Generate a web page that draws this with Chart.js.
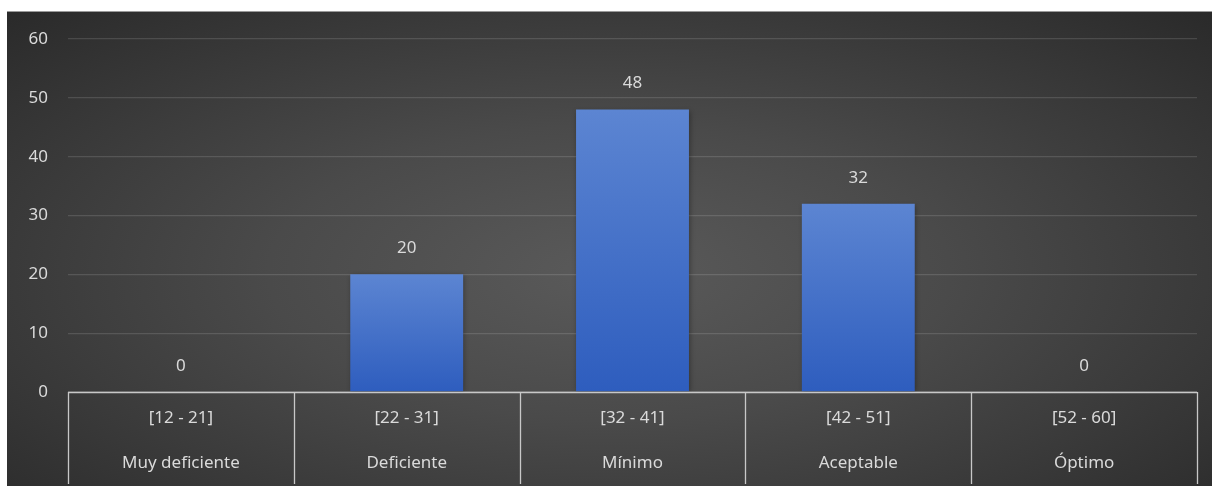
<!DOCTYPE html>
<html>
<head>
<meta charset="utf-8">
<script src="https://cdn.jsdelivr.net/npm/chart.js@4.4.1/dist/chart.umd.min.js"></script>
<style>
  html, body { margin: 0; padding: 0; background: #ffffff; width: 1212px; height: 486px; overflow: hidden; }
  #wrap {
    position: absolute; left: 7px; top: 11px; width: 1205px; height: 475px;
    background: radial-gradient(ellipse farthest-corner at 50% 55%, #5a5a5a 0%, #4a4a4a 40%, #2a2a2a 100%);
    border-top: 1px solid #9a9a9a;
    box-sizing: border-box;
  }
  canvas { display: block; }
</style>
</head>
<body>
<div id="wrap"><canvas id="c" width="1205" height="474"></canvas></div>
<script>
const ranges = ["[12 - 21]", "[22 - 31]", "[32 - 41]", "[42 - 51]", "[52 - 60]"];
const levels = ["Muy deficiente", "Deficiente", "Mínimo", "Aceptable", "Óptimo"];
const counts = [0, 20, 48, 32, 0];
const yTicks = [0, 10, 20, 30, 40, 50, 60];

const textColor = "#dadada";
const fontFamily = "'Noto Sans', 'Open Sans', sans-serif";

const labels = ranges.map((r, i) => [r, levels[i]]);

const valueLabels = {
  id: "valueLabels",
  afterDatasetsDraw(chart) {
    const ctx = chart.ctx;
    const meta = chart.getDatasetMeta(0);
    ctx.save();
    ctx.fillStyle = textColor;
    ctx.font = "17px " + fontFamily;
    ctx.textAlign = "center";
    ctx.textBaseline = "middle";
    meta.data.forEach((bar, i) => {
      ctx.fillText(String(counts[i]), bar.x, bar.y - 26);
    });
    ctx.restore();
  }
};

const tableLines = {
  id: "tableLines",
  afterDraw(chart) {
    const ctx = chart.ctx;
    const xs = chart.scales.x;
    const n = labels.length;
    const step = (xs.right - xs.left) / n;
    const top = chart.chartArea.bottom;
    const bottom = chart.height - 2;
    ctx.save();
    ctx.strokeStyle = "#c8c8c8";
    ctx.lineWidth = 1.3;
    ctx.beginPath();
    ctx.moveTo(xs.left, top + 0.5);
    ctx.lineTo(xs.right, top + 0.5);
    for (let i = 0; i <= n; i++) {
      const x = Math.round(xs.left + step * i) + 0.5;
      ctx.moveTo(x, top);
      ctx.lineTo(x, bottom);
    }
    ctx.stroke();
    ctx.restore();
  }
};

const barShadow = {
  id: "barShadow",
  beforeDatasetsDraw(chart) {
    chart.ctx.save();
    chart.ctx.shadowColor = "rgba(0,0,0,0.35)";
    chart.ctx.shadowBlur = 5;
    chart.ctx.shadowOffsetX = 1;
    chart.ctx.shadowOffsetY = 1;
  },
  afterDatasetsDraw(chart) {
    chart.ctx.restore();
  }
};

function barGradient(context) {
  const chart = context.chart;
  if (!chart.chartArea) return "#4a75cc";
  const ys = chart.scales.y;
  const v = counts[context.dataIndex] || 0;
  const y0 = ys.getPixelForValue(v);
  const y1 = ys.getPixelForValue(0);
  if (!isFinite(y0) || !isFinite(y1) || y1 - y0 < 1) return "#4a75cc";
  const g = chart.ctx.createLinearGradient(0, y0, 0, y1);
  g.addColorStop(0, "#5c85d2");
  g.addColorStop(1, "#2e5dbe");
  return g;
}

new Chart(document.getElementById("c"), {
  type: "bar",
  data: {
    labels: labels,
    datasets: [{
      data: counts,
      backgroundColor: barGradient,
      borderWidth: 0,
      barPercentage: 0.5,
      categoryPercentage: 1.0
    }]
  },
  options: {
    responsive: false,
    animation: false,
    layout: { padding: { top: 27, right: 15, left: 0, bottom: 0 } },
    plugins: { legend: { display: false }, tooltip: { enabled: false } },
    scales: {
      y: {
        min: 0, max: 60,
        afterBuildTicks(scale) { scale.ticks = yTicks.map(v => ({ value: v })); },
        afterFit(scale) { scale.width = 61; scale.paddingTop = 0; scale.paddingBottom = 0; },
        ticks: {
          color: textColor,
          font: { size: 17, family: fontFamily },
          padding: 20
        },
        grid: { color: "rgba(255,255,255,0.13)", lineWidth: 1.3, drawTicks: false },
        border: { display: false }
      },
      x: {
        afterFit(scale) { scale.height = 94; scale.paddingTop = 0; scale.paddingBottom = 0; },
        ticks: {
          color: textColor,
          font: { size: 17, family: fontFamily, lineHeight: 2.65 },
          padding: -4,
          maxRotation: 0,
          autoSkip: false
        },
        grid: { display: false },
        border: { display: false }
      }
    }
  },
  plugins: [barShadow, valueLabels, tableLines]
});
</script>
</body>
</html>
